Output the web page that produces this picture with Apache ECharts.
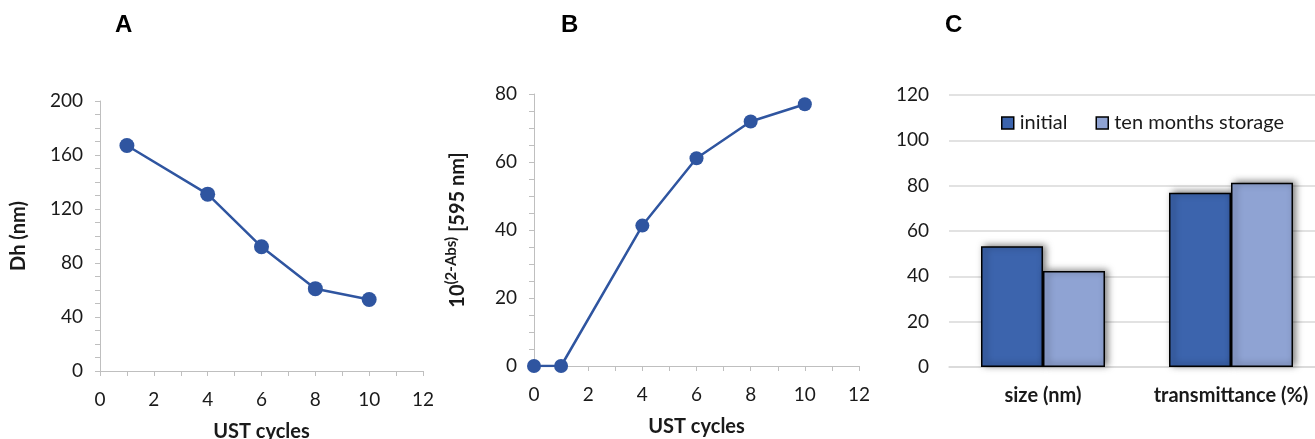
<!DOCTYPE html>
<html><head><meta charset="utf-8">
<script src="https://cdn.jsdelivr.net/npm/echarts@6/dist/echarts.min.js"></script>
<style>html,body{margin:0;padding:0;background:#fff}#c{width:1315px;height:439px}</style>
</head><body><div id="c"></div><script>
// Panel A: hydrodynamic diameter vs UST cycles
const aX = [1, 4, 6, 8, 10];
const aY = [167, 131, 92, 61, 53];
// Panel B: 10^(2-Abs) at 595 nm vs UST cycles
const bX = [0, 1, 4, 6, 8, 10];
const bY = [0, 0, 41.3, 61.1, 71.9, 77];
// Panel C: bar chart
const cCategories = ['size (nm)', 'transmittance (%)'];
const cInitial = [53.3, 76.9];
const cStorage = [42.4, 81.3];
const cNames = ['initial', 'ten months storage'];

const FONT = 'Lato';
const AXIS_GRAY = '#bfbfbf';
const LINE_BLUE = '#2f55a0';
const TXT = '#1a1a1a';

function pairs(xs, ys) { return xs.map((x, i) => [x, ys[i]]); }

function valueXAxis(gridIndex) {
  return {
    type: 'value', gridIndex, min: 0, max: 12, interval: 2,
    name: 'UST cycles', nameLocation: 'middle', nameGap: 51,
    nameTextStyle: { fontFamily: FONT, fontSize: 20, fontWeight: 'bold', color: TXT },
    axisLine: { show: true, lineStyle: { color: AXIS_GRAY, width: 1 } },
    axisTick: { show: true, length: 5, lineStyle: { color: AXIS_GRAY } },
    minorTick: { show: true, splitNumber: 2, length: 5, lineStyle: { color: AXIS_GRAY } },
    splitLine: { show: false },
    axisLabel: { fontFamily: FONT, fontSize: 19, color: TXT, margin: 19 }
  };
}
function valueYAxis(gridIndex, max, interval, extra) {
  return Object.assign({
    type: 'value', gridIndex, min: 0, max, interval,
    nameLocation: 'middle', nameRotate: 90,
    axisLine: { show: true, lineStyle: { color: AXIS_GRAY, width: 1 } },
    axisTick: { show: true, length: 5, lineStyle: { color: AXIS_GRAY } },
    minorTick: { show: true, splitNumber: 4, length: 5, lineStyle: { color: AXIS_GRAY } },
    splitLine: { show: false },
    axisLabel: { fontFamily: FONT, fontSize: 19, color: TXT, margin: 17 }
  }, extra);
}

const titleStyle = { fontFamily: 'Liberation Sans', fontWeight: 'bold', fontSize: 24, color: '#000' };

const option = {
  backgroundColor: '#fff',
  animation: false,
  title: [
    { text: 'A', left: 115, top: 13, padding: 0, textStyle: titleStyle },
    { text: 'B', left: 561, top: 13, padding: 0, textStyle: titleStyle },
    { text: 'C', left: 945, top: 13, padding: 0, textStyle: titleStyle }
  ],
  grid: [
    { left: 100, top: 101, width: 323, height: 270, containLabel: false, outerBoundsMode: 'none' },
    { left: 534, top: 94, width: 325, height: 272, containLabel: false, outerBoundsMode: 'none' },
    { left: 949, top: 95, width: 376, height: 272, containLabel: false, outerBoundsMode: 'none' }
  ],
  legend: {
    data: cNames, left: 996, top: 108, itemWidth: 12, itemHeight: 12, itemGap: 28,
    icon: 'rect',
    textStyle: { fontFamily: FONT, fontSize: 20, color: TXT, padding: [0, 0, 0, 1] },
    itemStyle: { borderColor: '#000', borderWidth: 1.5, shadowBlur: 0 }
  },
  xAxis: [
    valueXAxis(0),
    valueXAxis(1),
    {
      type: 'category', gridIndex: 2, data: cCategories,
      axisLine: { show: true, lineStyle: { color: '#d9d9d9', width: 1.5 } },
      axisTick: { show: false },
      axisLabel: { interval: 0, hideOverlap: false, fontFamily: FONT, fontSize: 20, fontWeight: 'bold', color: TXT, margin: 19 }
    }
  ],
  yAxis: [
    valueYAxis(0, 200, 40, {
      name: 'Dh (nm)', nameGap: 71,
      nameTextStyle: { fontFamily: FONT, fontSize: 20, fontWeight: 'bold', color: TXT }
    }),
    valueYAxis(1, 80, 20, {
      name: '10{s|(2-Abs)} [595 nm]', nameGap: 62,
      nameTextStyle: {
        fontFamily: FONT, fontSize: 20, fontWeight: 'bold', color: TXT, lineHeight: 28,
        rich: {
          s: { fontFamily: FONT, fontSize: 15, fontWeight: 'bold', color: TXT, lineHeight: 15, verticalAlign: 'top' }
        }
      }
    }),
    {
      type: 'value', gridIndex: 2, min: 0, max: 120, interval: 20,
      axisLine: { show: false }, axisTick: { show: false },
      splitLine: { show: true, lineStyle: { color: '#d9d9d9', width: 1.5 } },
      axisLabel: { fontFamily: FONT, fontSize: 19, color: TXT, margin: 20 }
    }
  ],
  series: [
    {
      type: 'line', xAxisIndex: 0, yAxisIndex: 0, data: pairs(aX, aY),
      symbol: 'circle', symbolSize: 15,
      lineStyle: { color: LINE_BLUE, width: 2.5 },
      itemStyle: { color: LINE_BLUE }
    },
    {
      type: 'line', xAxisIndex: 1, yAxisIndex: 1, data: pairs(bX, bY),
      symbol: 'circle', symbolSize: 14,
      lineStyle: { color: LINE_BLUE, width: 2.5 },
      itemStyle: { color: LINE_BLUE }
    },
    {
      type: 'bar', name: cNames[0], xAxisIndex: 2, yAxisIndex: 2, data: cInitial,
      barWidth: 62, barGap: '0%',
      itemStyle: { color: '#3c64ad', borderColor: '#000', borderWidth: 1.5,
        shadowBlur: 7, shadowColor: 'rgba(0,0,0,0.55)', shadowOffsetX: 3, shadowOffsetY: -1 }
    },
    {
      type: 'bar', name: cNames[1], xAxisIndex: 2, yAxisIndex: 2, data: cStorage,
      barWidth: 62, barGap: '0%',
      itemStyle: { color: '#8fa3d3', borderColor: '#000', borderWidth: 1.5,
        shadowBlur: 7, shadowColor: 'rgba(0,0,0,0.55)', shadowOffsetX: 3, shadowOffsetY: -1 }
    }
  ]
};

const chart = echarts.init(document.getElementById('c'), null, { renderer: 'canvas' });
chart.setOption(option);
</script></body></html>
